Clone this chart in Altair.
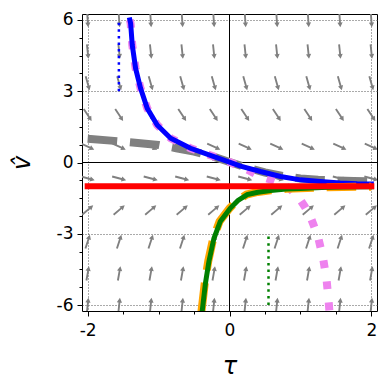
import altair as alt
import pandas as pd

# ---- data ----
x_domain = [-2.08, 2.08]
y_domain = [-6.25, 6.25]

grid_x = [-2.0, -1.556, -1.111, -0.667, -0.222, 0.222, 0.667, 1.111, 1.556, 2.0]
grid_y = [6.0, 4.667, 3.333, 2.0, 0.667, -0.667, -2.0, -3.333, -4.667, -6.0]
# screen angle (clockwise from pointing right) of the field arrows in each row
row_angle = [86, 84, 74, 57, 25, 15, 320, 288, 280, 276]

blue_x = [-1.405, -1.394, -1.371, -1.324, -1.254, -1.16, -1.02, -0.83, -0.55, -0.22, 0.0, 0.155, 0.437, 0.72, 1.0, 1.28, 1.56, 1.8, 2.0]
blue_y = [6.0, 5.85, 4.94, 3.96, 3.12, 2.28, 1.58, 1.02, 0.60, 0.25, 0.02, -0.15, -0.38, -0.59, -0.73, -0.80, -0.86, -0.89, -0.90]

magenta_x = [-1.405, -1.394, -1.371, -1.324, -1.254, -1.16, -1.02, -0.83, -0.55, -0.22, 0.0, 0.2, 0.41, 0.6, 0.74, 0.86, 0.97, 1.06, 1.14, 1.25, 1.32, 1.37, 1.40, 1.41]
magenta_y = [6.0, 5.85, 4.94, 3.96, 3.12, 2.28, 1.58, 1.02, 0.60, 0.25, 0.02, -0.22, -0.55, -0.74, -0.90, -1.12, -1.45, -1.85, -2.27, -3.15, -4.03, -4.96, -5.92, -6.3]

gray_x = [-2.0, -1.5, -1.0, -0.75, -0.5, -0.25, 0.0, 0.25, 0.5, 0.75, 1.0, 1.25, 1.5, 1.75, 2.0]
gray_y = [1.0, 0.88, 0.74, 0.60, 0.46, 0.27, 0.02, -0.22, -0.42, -0.57, -0.67, -0.73, -0.76, -0.78, -0.79]

green_x = [-0.39, -0.385, -0.34, -0.29, -0.22, -0.13, 0.01, 0.12, 0.25, 0.4, 0.58, 0.8, 1.0, 1.3, 1.6, 2.0]
green_y = [-6.3, -6.26, -5.1, -4.16, -3.2, -2.48, -1.93, -1.6, -1.35, -1.25, -1.18, -1.12, -1.09, -1.05, -1.03, -1.02]

orange_x = [-0.40, -0.395, -0.35, -0.30, -0.23, -0.14, 0.0, 0.11, 0.24, 0.4, 0.58, 0.8, 1.0, 1.3, 1.6, 2.0]
orange_y = [-6.3, -6.26, -5.1, -4.16, -3.2, -2.48, -1.93, -1.6, -1.35, -1.24, -1.17, -1.11, -1.08, -1.05, -1.03, -1.02]

red_x = [-2.0, 2.0]
red_y = [-1.0, -1.0]

blue_asym_x = [-1.56, -1.56]
blue_asym_y = [3.0, 6.0]
green_asym_x = [0.55, 0.55]
green_asym_y = [-6.0, -3.0]

x_ticks = [-2.0, -1.5, -1.0, -0.5, 0.0, 0.5, 1.0, 1.5, 2.0]
y_ticks = [-6 + 0.75 * k for k in range(17)]


def line_df(xs, ys):
    return pd.DataFrame({"x": xs, "y": ys, "i": list(range(len(xs)))})


quiver = pd.DataFrame(
    [{"x": gx, "y": gy, "angle": a} for gy, a in zip(grid_y, row_angle) for gx in grid_x]
)

X = alt.X(
    "x:Q",
    title="τ",
    scale=alt.Scale(domain=x_domain, nice=False, zero=False),
    axis=alt.Axis(
        values=x_ticks,
        labelExpr="abs(datum.value) % 2 == 0 ? '' + datum.value : ''",
        tickSize={"condition": {"test": "abs(datum.value) % 2 == 0", "value": 5}, "value": 3},
        grid=True,
        gridDash=[1, 2],
        gridColor="#555555",
        gridOpacity={"condition": {"test": "abs(datum.value) == 2", "value": 1}, "value": 0},
        domain=False,
        tickColor="black",
        labelFont="DejaVu Sans",
        labelFontSize=17,
        labelColor="black",
        labelPadding=6,
        labelFlush=False,
        labelOverlap=False,
        titleFont="DejaVu Sans",
        titleFontStyle="italic",
        titleFontWeight="normal",
        titleFontSize=24,
        titleColor="black",
        titlePadding=16,
    ),
)
Y = alt.Y(
    "y:Q",
    title="v̂",
    scale=alt.Scale(domain=y_domain, nice=False, zero=False),
    axis=alt.Axis(
        values=y_ticks,
        labelExpr="datum.value % 3 == 0 ? '' + datum.value : ''",
        tickSize={"condition": {"test": "datum.value % 3 == 0", "value": 5}, "value": 3},
        grid=True,
        gridDash=[1, 2],
        gridColor="#555555",
        gridOpacity={"condition": {"test": "abs(datum.value) == 3 || abs(datum.value) == 6", "value": 1}, "value": 0},
        domain=False,
        tickColor="black",
        labelFont="DejaVu Sans",
        labelFontSize=17,
        labelColor="black",
        labelPadding=4,
        labelFlush=False,
        labelOverlap=False,
        titleFont="DejaVu Sans",
        titleFontStyle="italic",
        titleFontWeight="normal",
        titleFontSize=24,
        titleColor="black",
        titlePadding=22,
    ),
)

ARROW = "M -1 -0.13 L 0.35 -0.13 L 0.35 -0.36 L 1 0 L 0.35 0.36 L 0.35 0.13 L -1 0.13 Z"

arrows = alt.Chart(quiver).mark_point(
    shape=ARROW, filled=True, fill="gray", strokeWidth=0, size=210, opacity=1, clip=True
).encode(x=X, y=Y, angle=alt.Angle("angle:Q", scale=None))

zero_df = pd.DataFrame({"x": [0.0], "y": [0.0]})
vline = alt.Chart(zero_df).mark_rule(color="black", strokeWidth=1).encode(x=X)
hline = alt.Chart(zero_df).mark_rule(color="black", strokeWidth=1).encode(y=Y)


def curve(xs, ys, color, width, dash=None, cap="square"):
    kw = dict(color=color, strokeWidth=width, strokeCap=cap, clip=True)
    if dash is not None:
        kw["strokeDash"] = dash
    return alt.Chart(line_df(xs, ys)).mark_line(**kw).encode(x=X, y=Y, order="i:Q")


layers = [
    arrows,
    vline,
    hline,
    curve(gray_x, gray_y, "gray", 8, [29.6, 12.8], "butt"),
    curve(magenta_x, magenta_y, "violet", 8, [8, 13.2], "butt"),
    curve(blue_x, blue_y, "blue", 5),
    curve(orange_x, orange_y, "orange", 8, [29.6, 12.8], "butt"),
    curve(green_x, green_y, "green", 5),
    curve(red_x, red_y, "red", 6),
    curve(blue_asym_x, blue_asym_y, "blue", 2.5, [2.5, 4.1], "butt"),
    curve(green_asym_x, green_asym_y, "green", 2.5, [2.5, 4.1], "butt"),
]

chart = (
    alt.layer(*layers)
    .properties(width=295, height=297, padding={"left": 2, "top": 2, "right": 2, "bottom": 2})
    .configure_view(stroke="black", strokeWidth=1)
)

chart.save("out.html", embed_options={"renderer": "svg", "actions": False})
